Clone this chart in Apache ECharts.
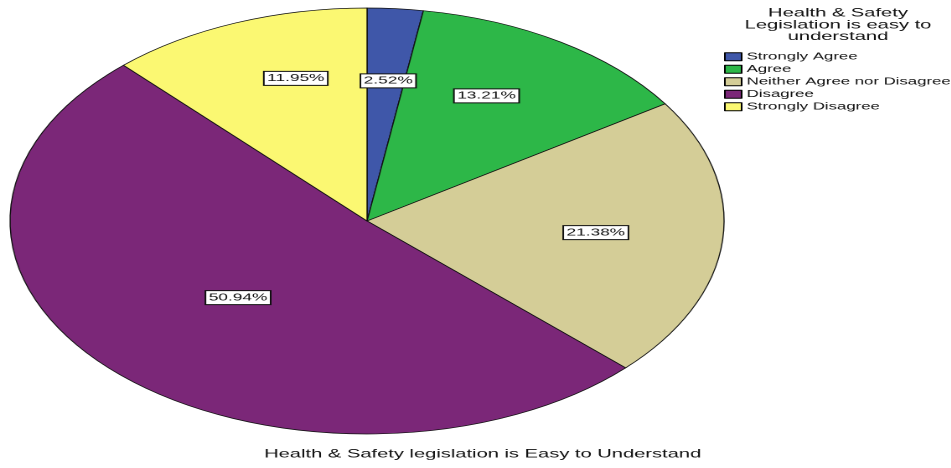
<!DOCTYPE html>
<html>
<head>
<meta charset="utf-8">
<script src="https://cdn.jsdelivr.net/npm/echarts@6/dist/echarts.min.js"></script>
<style>
html,body{margin:0;padding:0;background:#fff;overflow:hidden;}
#wrap{width:951px;height:468px;overflow:hidden;}
#c{width:567.4px;height:468px;transform:scaleX(1.676);transform-origin:0 0;}
</style>
</head>
<body>
<div id="wrap"><div id="c"></div></div>
<script>
const categories = ['Strongly Agree', 'Agree', 'Neither Agree nor Disagree', 'Disagree', 'Strongly Disagree'];
const percents = [2.52, 13.21, 21.38, 50.94, 11.95];
const colors = ['#3f57a9', '#2db748', '#d4cd97', '#7b2778', '#fbf872'];
const legendTitle = 'Health & Safety\nLegislation is easy to\nunderstand';
const axisTitle = 'Health & Safety legislation is Easy to Understand';

// layout (not data)
const CX = 219, CY = 221, R = 213;
const labelRadius = [0.66, 0.68, 0.645, 0.51, 0.70];
const labelNudge = [[1.2, 4], [-9.5, 0], [-4.2, -1], [2.4, -2], [13.7, 0]];

const chart = echarts.init(document.getElementById('c'), null, {devicePixelRatio: 2});
const FONT = '"Liberation Sans", Arial, sans-serif';
chart.setOption({
  animation: false,
  color: colors,
  title: [
    {text: legendTitle, left: 500, top: 7.5, textAlign: 'center', padding: 0,
     textStyle: {fontSize: 12, lineHeight: 11.7, fontWeight: 'normal', color: '#111', fontFamily: FONT}},
    {text: axisTitle, left: 288, top: 448, textAlign: 'center', padding: 0,
     textStyle: {fontSize: 12, fontWeight: 'normal', color: '#111', fontFamily: FONT}}
  ],
  legend: {
    orient: 'vertical', left: 432, top: 50.5,
    itemWidth: 10, itemHeight: 8, itemGap: 0, padding: 0,
    icon: 'rect',
    itemStyle: {borderColor: '#000', borderWidth: 1},
    textStyle: {fontSize: 10, lineHeight: 12.5, color: '#111', fontFamily: FONT, padding: [0,0,0,-2]},
    data: categories
  },
  series: [{
    type: 'pie',
    center: [CX, CY],
    radius: [0, R],
    startAngle: 90,
    clockwise: true,
    avoidLabelOverlap: false,
    itemStyle: {borderColor: '#111', borderWidth: 0.7},
    emphasis: {disabled: true},
    label: {
      show: true, position: 'inside',
      formatter: p => p.value.toFixed(2) + '%',
      fontSize: 10.3, fontFamily: FONT, color: '#111',
      backgroundColor: '#fff', borderColor: '#111', borderWidth: 1,
      padding: [2, 1.5, 1, 1.5]
    },
    labelLine: {show: false},
    labelLayout: function (params) {
      const r = params.labelRect;
      const i = params.dataIndex;
      const lx = r.x + r.width / 2, ly = r.y + r.height / 2;
      const k = labelRadius[i] / 0.5;
      return {x: CX + (lx - CX) * k + labelNudge[i][0], y: CY + (ly - CY) * k + labelNudge[i][1]};
    },
    data: categories.map((c, i) => ({name: c, value: percents[i]}))
  }]
});
</script>
</body>
</html>
